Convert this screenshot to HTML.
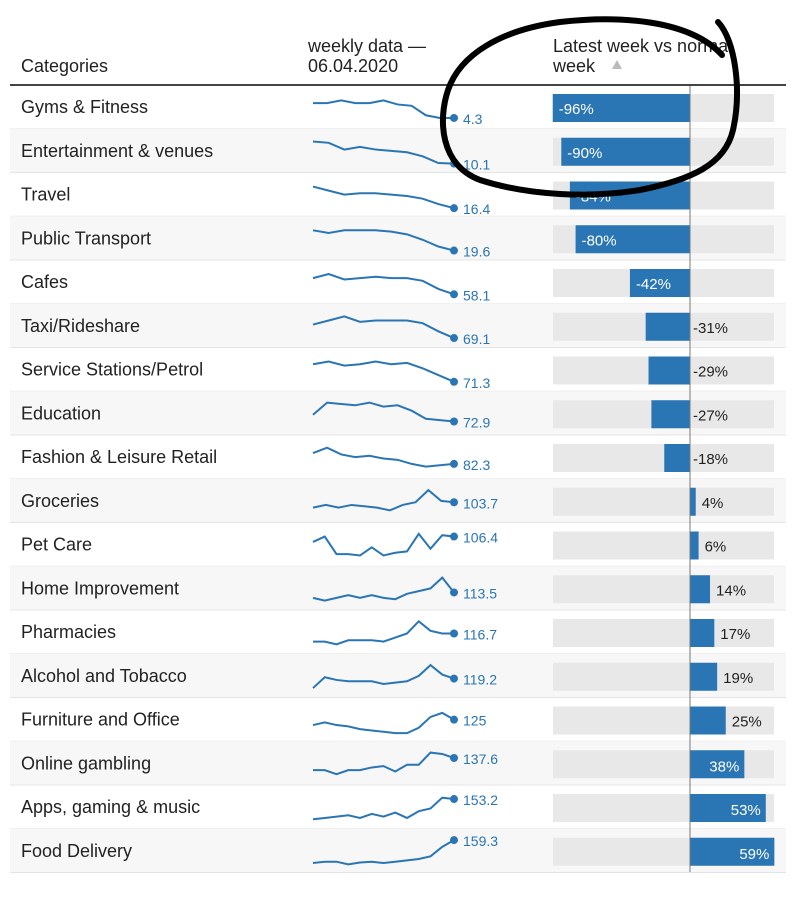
<!DOCTYPE html>
<html><head><meta charset="utf-8"><style>
body{margin:0;background:#fff;width:800px;height:896px;overflow:hidden;font-family:"Liberation Sans",Arial,sans-serif}
svg text{font-family:"Liberation Sans",Arial,sans-serif}
</style></head><body>
<svg id="s" width="800" height="896" xmlns="http://www.w3.org/2000/svg">
<text x="21" y="72" font-size="18" fill="#222">Categories</text>
<text x="308" y="52" font-size="18" fill="#222">weekly data —</text>
<text x="308" y="72" font-size="18" fill="#222">06.04.2020</text>
<text x="553" y="52" font-size="18" fill="#222">Latest week vs normal</text>
<text x="553" y="72" font-size="18" fill="#222">week</text>
<path d="M612 69 L617 60 L622 69Z" fill="#bbb"/>
<g id="rows"></g>
<line x1="10" y1="85" x2="786" y2="85" stroke="#444" stroke-width="2"/>
<line x1="690" y1="86" x2="690" y2="872" stroke="#777" stroke-width="1"/>
<path d="M718 22 C735 40 742 90 733 130 C725 165 690 180 640 190 C590 198 530 196 480 180 C440 165 438 120 448 90 C460 55 500 30 560 22 C620 15 690 20 722 55" fill="none" stroke="#000" stroke-width="6" stroke-linecap="round"/>
</svg>
<script>
const d=[
["Gyms & Fitness",4.3,-96,[.7,.7,.8,.7,.7,.8,.65,.6,.25,.15,.15]],
["Entertainment & venues",10.1,-90,[.9,.85,.6,.7,.6,.55,.5,.35,.1,.08]],
["Travel",16.4,-84,[.85,.7,.55,.6,.6,.55,.5,.4,.2,.05]],
["Public Transport",19.6,-80,[.85,.75,.85,.85,.85,.8,.7,.5,.25,.1]],
["Cafes",58.1,-42,[.7,.85,.65,.7,.75,.7,.7,.6,.3,.1]],
["Taxi/Rideshare",69.1,-31,[.6,.75,.9,.7,.75,.75,.75,.65,.35,.1]],
["Service Stations/Petrol",71.3,-29,[.75,.85,.7,.75,.85,.75,.8,.6,.35,.1]],
["Education",72.9,-27,[.5,.95,.9,.85,.95,.8,.85,.65,.35,.3,.25]],
["Fashion & Leisure Retail",82.3,-18,[.7,.9,.65,.55,.6,.5,.45,.3,.2,.25,.3]],
["Groceries",103.7,4,[.3,.4,.3,.4,.35,.3,.2,.4,.5,.95,.55,.5]],
["Pet Care",106.4,6,[.65,.85,.2,.2,.15,.45,.15,.25,.3,.95,.4,.9,.85]],
["Home Improvement",113.5,14,[.2,.1,.2,.3,.2,.3,.2,.15,.35,.45,.55,.95,.4]],
["Pharmacies",116.7,17,[.2,.2,.1,.25,.25,.25,.2,.35,.5,.95,.6,.5,.5]],
["Alcohol and Tobacco",119.2,19,[.1,.5,.4,.35,.35,.35,.25,.3,.35,.55,.95,.6,.45]],
["Furniture and Office",125,25,[.35,.45,.35,.3,.2,.15,.1,.05,.05,.25,.65,.8,.55]],
["Online gambling",137.6,38,[.3,.3,.15,.3,.3,.4,.45,.25,.5,.5,.95,.9,.75]],
["Apps, gaming & music",153.2,53,[.1,.15,.2,.25,.15,.3,.2,.35,.15,.4,.5,.9,.85]],
["Food Delivery",159.3,59,[.1,.15,.15,.05,.12,.15,.1,.15,.2,.25,.35,.7,.95]]];
let h="";const R=43.75,T=85;
d.forEach((r,i)=>{const y=T+i*R;
if(i%2==1)h+=`<rect x="10" y="${y}" width="776" height="${R}" fill="#f7f7f7"/>`;
h+=`<line x1="10" y1="${y+R}" x2="786" y2="${y+R}" stroke="#e4e4e4"/>`;
h+=`<text x="21" y="${y+28}" font-size="18" fill="#222">${r[0].replace('&','&amp;')}</text>`;
const v=r[3],n=v.length;let pts=v.map((a,k)=>[313+k*141/(n-1),y+37-a*27]);
h+=`<polyline points="${pts.map(p=>p.join(',')).join(' ')}" fill="none" stroke="#2a75b3" stroke-width="2"/>`;
const e=pts[n-1];h+=`<circle cx="${e[0]}" cy="${e[1]}" r="4" fill="#2a75b3"/>`;
h+=`<text x="463" y="${e[1]+6}" font-size="14" fill="#2a75b3">${r[1]}</text>`;
h+=`<rect x="553" y="${y+9}" width="221" height="28" fill="#e8e8e8"/>`;
const p=r[2],w=Math.abs(p)*1.43,bx=p<0?690-w:690;
h+=`<rect x="${bx}" y="${y+9}" width="${w}" height="28" fill="#2a75b3"/>`;
const t=p+"%";
if(p<0){ if(p<=-40)h+=`<text x="${bx+6}" y="${y+29}" font-size="15" fill="#fff">${t}</text>`;
 else h+=`<text x="693" y="${y+29}" font-size="15" fill="#222">${t}</text>`;}
else{ if(p>=35)h+=`<text x="${bx+w-5}" y="${y+30}" font-size="15" fill="#fff" text-anchor="end">${t}</text>`;
 else h+=`<text x="${bx+w+6}" y="${y+29}" font-size="15" fill="#222">${t}</text>`;}
});
document.getElementById("rows").innerHTML=h;
</script>
</body></html>
